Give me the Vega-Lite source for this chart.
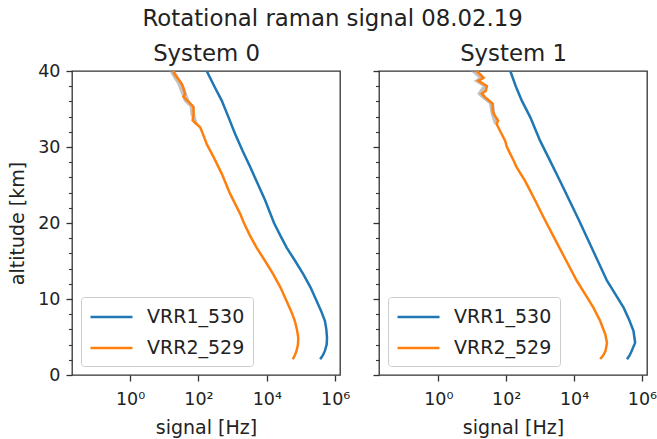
{
  "$schema": "https://vega.github.io/schema/vega-lite/v6.json",
  "padding": {"left": 8, "top": 8, "right": 0, "bottom": 1},
  "title": {"text": "Rotational raman signal 08.02.19", "anchor": "middle", "offset": -7, "fontSize": 22.8, "fontWeight": "normal", "font": "DejaVu Sans", "color": "#222", "baseline": "alphabetic"},
  "datasets": {
    "sig": [
      {"s": 0, "ch": "VRR1_530", "alt": 40, "v": 174},
      {"s": 0, "ch": "VRR1_530", "alt": 38, "v": 290},
      {"s": 0, "ch": "VRR1_530", "alt": 36.1, "v": 479},
      {"s": 0, "ch": "VRR1_530", "alt": 33.9, "v": 759},
      {"s": 0, "ch": "VRR1_530", "alt": 31.75, "v": 1175},
      {"s": 0, "ch": "VRR1_530", "alt": 29.5, "v": 1950},
      {"s": 0, "ch": "VRR1_530", "alt": 27.4, "v": 3236},
      {"s": 0, "ch": "VRR1_530", "alt": 25.2, "v": 5370},
      {"s": 0, "ch": "VRR1_530", "alt": 23.0, "v": 8913},
      {"s": 0, "ch": "VRR1_530", "alt": 20.0, "v": 16218},
      {"s": 0, "ch": "VRR1_530", "alt": 18.3, "v": 25119},
      {"s": 0, "ch": "VRR1_530", "alt": 16.75, "v": 38019},
      {"s": 0, "ch": "VRR1_530", "alt": 15.0, "v": 67608},
      {"s": 0, "ch": "VRR1_530", "alt": 13.25, "v": 117490},
      {"s": 0, "ch": "VRR1_530", "alt": 11.5, "v": 190546},
      {"s": 0, "ch": "VRR1_530", "alt": 9.7, "v": 288403},
      {"s": 0, "ch": "VRR1_530", "alt": 8.4, "v": 389045},
      {"s": 0, "ch": "VRR1_530", "alt": 7.1, "v": 501187},
      {"s": 0, "ch": "VRR1_530", "alt": 6.0, "v": 549541},
      {"s": 0, "ch": "VRR1_530", "alt": 4.9, "v": 575440},
      {"s": 0, "ch": "VRR1_530", "alt": 4.0, "v": 562341},
      {"s": 0, "ch": "VRR1_530", "alt": 3.2, "v": 501187},
      {"s": 0, "ch": "VRR1_530", "alt": 2.6, "v": 436516},
      {"s": 0, "ch": "VRR1_530", "alt": 2.07, "v": 363078},
      {"s": 0, "ch": "VRR2_529", "alt": 40, "v": 18.6},
      {"s": 0, "ch": "VRR2_529", "alt": 39.6, "v": 20},
      {"s": 0, "ch": "VRR2_529", "alt": 39.0, "v": 25.1},
      {"s": 0, "ch": "VRR2_529", "alt": 38.3, "v": 32.4},
      {"s": 0, "ch": "VRR2_529", "alt": 37.6, "v": 37.2},
      {"s": 0, "ch": "VRR2_529", "alt": 37.0, "v": 40.7},
      {"s": 0, "ch": "VRR2_529", "alt": 36.6, "v": 36.3},
      {"s": 0, "ch": "VRR2_529", "alt": 36.0, "v": 50.1},
      {"s": 0, "ch": "VRR2_529", "alt": 35.3, "v": 70.8},
      {"s": 0, "ch": "VRR2_529", "alt": 34.3, "v": 72.4},
      {"s": 0, "ch": "VRR2_529", "alt": 33.5, "v": 67.6},
      {"s": 0, "ch": "VRR2_529", "alt": 33.0, "v": 89.1},
      {"s": 0, "ch": "VRR2_529", "alt": 32.6, "v": 112},
      {"s": 0, "ch": "VRR2_529", "alt": 31.5, "v": 141},
      {"s": 0, "ch": "VRR2_529", "alt": 30.4, "v": 174},
      {"s": 0, "ch": "VRR2_529", "alt": 28.7, "v": 275},
      {"s": 0, "ch": "VRR2_529", "alt": 26.5, "v": 479},
      {"s": 0, "ch": "VRR2_529", "alt": 23.9, "v": 832},
      {"s": 0, "ch": "VRR2_529", "alt": 21.2, "v": 1660},
      {"s": 0, "ch": "VRR2_529", "alt": 20.0, "v": 2138},
      {"s": 0, "ch": "VRR2_529", "alt": 18.4, "v": 3162},
      {"s": 0, "ch": "VRR2_529", "alt": 16.75, "v": 5012},
      {"s": 0, "ch": "VRR2_529", "alt": 15.0, "v": 8913},
      {"s": 0, "ch": "VRR2_529", "alt": 13.25, "v": 15488},
      {"s": 0, "ch": "VRR2_529", "alt": 11.5, "v": 25119},
      {"s": 0, "ch": "VRR2_529", "alt": 9.7, "v": 38019},
      {"s": 0, "ch": "VRR2_529", "alt": 8.4, "v": 51286},
      {"s": 0, "ch": "VRR2_529", "alt": 7.1, "v": 66069},
      {"s": 0, "ch": "VRR2_529", "alt": 6.0, "v": 75858},
      {"s": 0, "ch": "VRR2_529", "alt": 4.9, "v": 83176},
      {"s": 0, "ch": "VRR2_529", "alt": 4.0, "v": 81283},
      {"s": 0, "ch": "VRR2_529", "alt": 3.2, "v": 74131},
      {"s": 0, "ch": "VRR2_529", "alt": 2.6, "v": 66069},
      {"s": 0, "ch": "VRR2_529", "alt": 2.07, "v": 57544},
      {"s": 1, "ch": "VRR1_530", "alt": 40, "v": 132},
      {"s": 1, "ch": "VRR1_530", "alt": 38, "v": 191},
      {"s": 1, "ch": "VRR1_530", "alt": 36.1, "v": 288},
      {"s": 1, "ch": "VRR1_530", "alt": 33.9, "v": 513},
      {"s": 1, "ch": "VRR1_530", "alt": 32.3, "v": 724},
      {"s": 1, "ch": "VRR1_530", "alt": 30.8, "v": 1000},
      {"s": 1, "ch": "VRR1_530", "alt": 28.2, "v": 1950},
      {"s": 1, "ch": "VRR1_530", "alt": 25.5, "v": 3890},
      {"s": 1, "ch": "VRR1_530", "alt": 23.0, "v": 7244},
      {"s": 1, "ch": "VRR1_530", "alt": 20.5, "v": 13490},
      {"s": 1, "ch": "VRR1_530", "alt": 18.0, "v": 24547},
      {"s": 1, "ch": "VRR1_530", "alt": 15.2, "v": 47863},
      {"s": 1, "ch": "VRR1_530", "alt": 12.4, "v": 93325},
      {"s": 1, "ch": "VRR1_530", "alt": 10.6, "v": 165959},
      {"s": 1, "ch": "VRR1_530", "alt": 8.86, "v": 288403},
      {"s": 1, "ch": "VRR1_530", "alt": 7.3, "v": 416869},
      {"s": 1, "ch": "VRR1_530", "alt": 5.8, "v": 562341},
      {"s": 1, "ch": "VRR1_530", "alt": 4.25, "v": 630957},
      {"s": 1, "ch": "VRR1_530", "alt": 3.2, "v": 501187},
      {"s": 1, "ch": "VRR1_530", "alt": 2.6, "v": 436516},
      {"s": 1, "ch": "VRR1_530", "alt": 2.07, "v": 363078},
      {"s": 1, "ch": "VRR2_529", "alt": 40, "v": 13.5},
      {"s": 1, "ch": "VRR2_529", "alt": 39.1, "v": 21.4},
      {"s": 1, "ch": "VRR2_529", "alt": 38.7, "v": 15.1},
      {"s": 1, "ch": "VRR2_529", "alt": 38.0, "v": 26.9},
      {"s": 1, "ch": "VRR2_529", "alt": 37.4, "v": 25.1},
      {"s": 1, "ch": "VRR2_529", "alt": 37.0, "v": 19.1},
      {"s": 1, "ch": "VRR2_529", "alt": 36.6, "v": 22.9},
      {"s": 1, "ch": "VRR2_529", "alt": 35.7, "v": 39.8},
      {"s": 1, "ch": "VRR2_529", "alt": 34.8, "v": 39.8},
      {"s": 1, "ch": "VRR2_529", "alt": 34.3, "v": 43.7},
      {"s": 1, "ch": "VRR2_529", "alt": 33.5, "v": 57.5},
      {"s": 1, "ch": "VRR2_529", "alt": 33.0, "v": 52.5},
      {"s": 1, "ch": "VRR2_529", "alt": 32.1, "v": 66.1},
      {"s": 1, "ch": "VRR2_529", "alt": 30.8, "v": 93.3},
      {"s": 1, "ch": "VRR2_529", "alt": 30.0, "v": 105},
      {"s": 1, "ch": "VRR2_529", "alt": 29.0, "v": 135},
      {"s": 1, "ch": "VRR2_529", "alt": 28.2, "v": 166},
      {"s": 1, "ch": "VRR2_529", "alt": 27.3, "v": 204},
      {"s": 1, "ch": "VRR2_529", "alt": 25.5, "v": 363},
      {"s": 1, "ch": "VRR2_529", "alt": 23.0, "v": 708},
      {"s": 1, "ch": "VRR2_529", "alt": 20.5, "v": 1349},
      {"s": 1, "ch": "VRR2_529", "alt": 18.0, "v": 2630},
      {"s": 1, "ch": "VRR2_529", "alt": 15.2, "v": 5623},
      {"s": 1, "ch": "VRR2_529", "alt": 12.4, "v": 12023},
      {"s": 1, "ch": "VRR2_529", "alt": 10.6, "v": 21380},
      {"s": 1, "ch": "VRR2_529", "alt": 8.86, "v": 37154},
      {"s": 1, "ch": "VRR2_529", "alt": 7.1, "v": 58884},
      {"s": 1, "ch": "VRR2_529", "alt": 5.35, "v": 83176},
      {"s": 1, "ch": "VRR2_529", "alt": 4.25, "v": 93325},
      {"s": 1, "ch": "VRR2_529", "alt": 3.2, "v": 85114},
      {"s": 1, "ch": "VRR2_529", "alt": 2.6, "v": 72444},
      {"s": 1, "ch": "VRR2_529", "alt": 2.1, "v": 58884}
    ],
    "band": [
      {"s": 0, "alt": 40, "lo": 14, "hi": 21},
      {"s": 0, "alt": 39, "lo": 19, "hi": 28},
      {"s": 0, "alt": 38.3, "lo": 24, "hi": 36},
      {"s": 0, "alt": 37, "lo": 31, "hi": 46},
      {"s": 0, "alt": 36, "lo": 38, "hi": 56},
      {"s": 0, "alt": 35.3, "lo": 55, "hi": 78},
      {"s": 0, "alt": 34.3, "lo": 58, "hi": 79},
      {"s": 0, "alt": 33, "lo": 75, "hi": 96},
      {"s": 1, "alt": 40, "lo": 9, "hi": 15.5},
      {"s": 1, "alt": 39.1, "lo": 15, "hi": 24},
      {"s": 1, "alt": 38.7, "lo": 11, "hi": 17.5},
      {"s": 1, "alt": 38, "lo": 20, "hi": 30},
      {"s": 1, "alt": 37, "lo": 14, "hi": 22},
      {"s": 1, "alt": 36.6, "lo": 17, "hi": 26},
      {"s": 1, "alt": 35.7, "lo": 31, "hi": 44},
      {"s": 1, "alt": 34.3, "lo": 35, "hi": 48},
      {"s": 1, "alt": 33, "lo": 44, "hi": 57}
    ]
  },
  "config": {
    "font": "DejaVu Sans",
    "view": {"stroke": "#333", "strokeWidth": 1.3},
    "concat": {"spacing": 39},
    "axis": {"grid": false, "domain": false, "tickColor": "#333", "tickWidth": 1.3, "tickSize": 6, "labelFont": "DejaVu Sans", "labelFontSize": 17.5, "labelColor": "#222", "labelPadding": 6, "titleFont": "DejaVu Sans", "titleFontSize": 19, "titleFontWeight": "normal", "titleColor": "#222"},
    "legend": {"orient": "bottom-left", "offset": 9, "padding": 8, "strokeColor": "#cccccc", "fillColor": "white", "cornerRadius": 3, "symbolType": "M-1,0H3", "symbolSize": 441, "symbolStrokeWidth": 2.5, "labelFont": "DejaVu Sans", "labelFontSize": 19, "labelColor": "#222", "labelOffset": 34, "rowPadding": 9, "title": null},
    "title": {"font": "DejaVu Sans", "fontSize": 22.8, "fontWeight": "normal", "color": "#222"}
  },
  "bounds": "flush",
  "resolve": {"legend": {"color": "independent"}},
  "hconcat": [
    {
      "width": 268, "height": 304,
      "resolve": {"axis": {"y": "independent", "x": "independent"}},
      "layer": [
        {
          "data": {"name": "band"},
          "transform": [{"filter": "datum.s == 0"}],
          "mark": {"type": "area", "orient": "horizontal", "color": "#999999", "opacity": 0.6, "clip": true},
          "encoding": {
            "y": {"field": "alt", "type": "quantitative", "scale": {"domain": [0, 40], "nice": false}, "axis": {"orient": "left", "values": [2,4,6,8,12,14,16,18,22,24,26,28,32,34,36,38], "labels": false, "tickSize": 3.5, "tickWidth": 1.1, "title": null}},
            "x": {"field": "lo", "type": "quantitative", "scale": {"type": "log", "domain": [0.02, 1380000], "nice": false}, "axis": {"orient": "top", "ticks": false, "labels": false, "title": "System 0", "titleFontSize": 22.8, "titleBaseline": "alphabetic", "titlePadding": 10.5}},
            "x2": {"field": "hi"}
          }
        },
        {
          "data": {"name": "sig"},
          "transform": [{"filter": "datum.s == 0"}],
          "mark": {"type": "line", "strokeWidth": 2.5, "clip": true},
          "encoding": {
            "y": {"field": "alt", "type": "quantitative", "scale": {"domain": [0, 40], "nice": false}, "axis": {"orient": "left", "values": [0, 10, 20, 30, 40], "title": "altitude [km]", "titlePadding": 10}},
            "x": {"field": "v", "type": "quantitative", "scale": {"type": "log", "domain": [0.02, 1380000], "nice": false}, "axis": {"orient": "bottom", "values": [1, 100, 10000, 1000000], "labelExpr": "datum.value == 1 ? '10⁰' : datum.value == 100 ? '10²' : datum.value == 10000 ? '10⁴' : '10⁶'", "labelPadding": 9, "title": "signal [Hz]", "titlePadding": 11}},
            "color": {"field": "ch", "type": "nominal", "scale": {"domain": ["VRR1_530", "VRR2_529"], "range": ["#1f77b4", "#ff7f0e"]}},
            "order": {"field": "alt", "type": "quantitative"}
          }
        }
      ]
    },
    {
      "width": 268, "height": 304,
      "resolve": {"axis": {"y": "independent", "x": "independent"}},
      "layer": [
        {
          "data": {"name": "band"},
          "transform": [{"filter": "datum.s == 1"}],
          "mark": {"type": "area", "orient": "horizontal", "color": "#999999", "opacity": 0.6, "clip": true},
          "encoding": {
            "y": {"field": "alt", "type": "quantitative", "scale": {"domain": [0, 40], "nice": false}, "axis": {"orient": "left", "values": [2,4,6,8,12,14,16,18,22,24,26,28,32,34,36,38], "labels": false, "tickSize": 3.5, "tickWidth": 1.1, "title": null}},
            "x": {"field": "lo", "type": "quantitative", "scale": {"type": "log", "domain": [0.0178, 1410000], "nice": false}, "axis": {"orient": "top", "ticks": false, "labels": false, "title": "System 1", "titleFontSize": 22.8, "titleBaseline": "alphabetic", "titlePadding": 10.5}},
            "x2": {"field": "hi"}
          }
        },
        {
          "data": {"name": "sig"},
          "transform": [{"filter": "datum.s == 1"}],
          "mark": {"type": "line", "strokeWidth": 2.5, "clip": true},
          "encoding": {
            "y": {"field": "alt", "type": "quantitative", "scale": {"domain": [0, 40], "nice": false}, "axis": {"orient": "left", "values": [0, 10, 20, 30, 40], "labels": false, "title": null}},
            "x": {"field": "v", "type": "quantitative", "scale": {"type": "log", "domain": [0.0178, 1410000], "nice": false}, "axis": {"orient": "bottom", "values": [1, 100, 10000, 1000000], "labelExpr": "datum.value == 1 ? '10⁰' : datum.value == 100 ? '10²' : datum.value == 10000 ? '10⁴' : '10⁶'", "labelPadding": 9, "title": "signal [Hz]", "titlePadding": 11}},
            "color": {"field": "ch", "type": "nominal", "scale": {"domain": ["VRR1_530", "VRR2_529"], "range": ["#1f77b4", "#ff7f0e"]}},
            "order": {"field": "alt", "type": "quantitative"}
          }
        }
      ]
    }
  ]
}
